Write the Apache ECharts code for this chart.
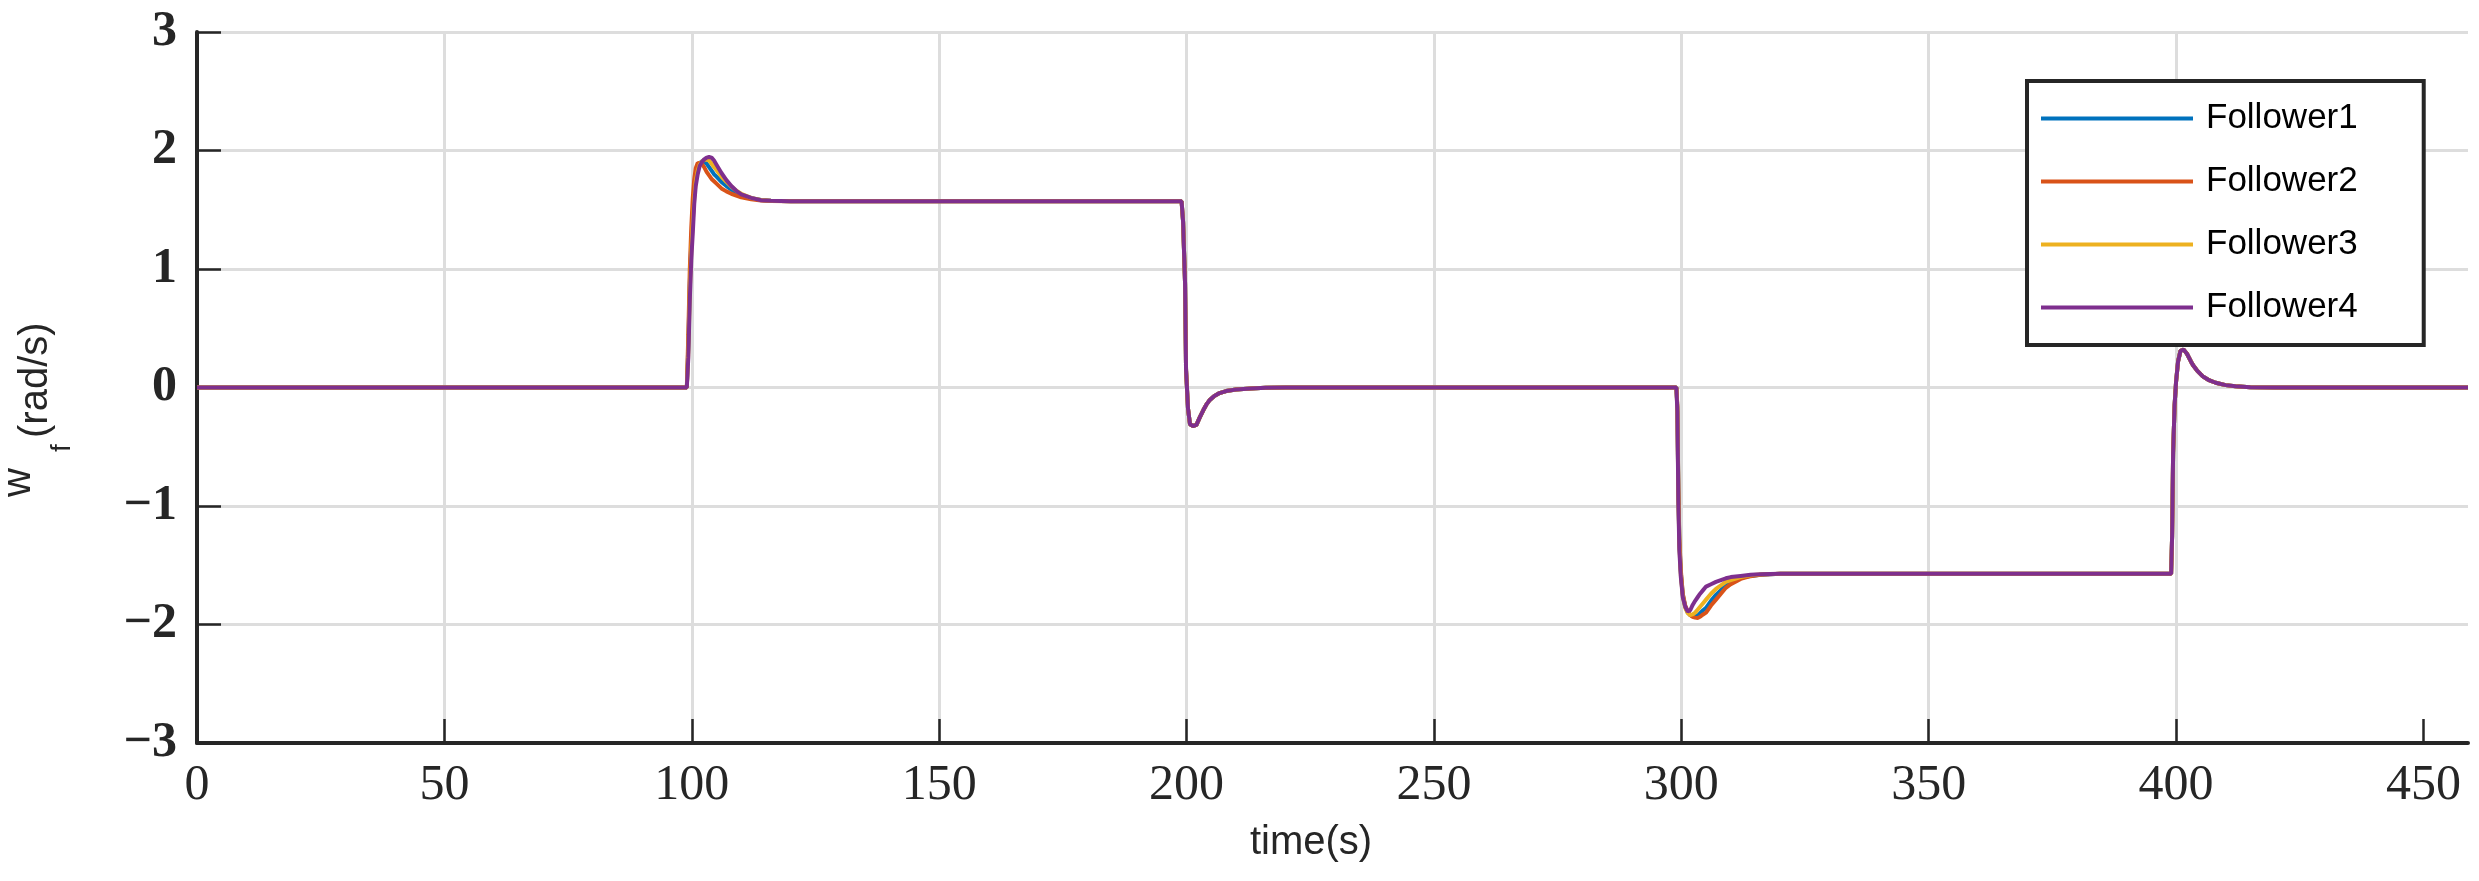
<!DOCTYPE html>
<html>
<head>
<meta charset="utf-8">
<script src="https://cdn.jsdelivr.net/npm/echarts@6/dist/echarts.min.js"></script>
<style>
html,body{margin:0;padding:0;background:#fff;}
#chart{width:2479px;height:881px;}
</style>
</head>
<body>
<div id="chart"></div>
<script>
// ---- data ----
const seriesNames = ['Follower1', 'Follower2', 'Follower3', 'Follower4'];
const xTicks = [0, 50, 100, 150, 200, 250, 300, 350, 400, 450];
const yTicks = [-3, -2, -1, 0, 1, 2, 3];

const tStart = [0];
const vStart = [0];

// step up at t = 100
const t100 = [99, 99.3, 99.6, 99.9, 100.2, 100.5, 100.8, 101.2, 101.6, 102, 102.5, 103, 103.5, 104, 104.5, 105, 106, 107, 108, 109, 110, 112, 114, 116, 120];
const f1_100 = [0, 0.35, 0.88, 1.22, 1.46, 1.65, 1.77, 1.85, 1.89, 1.91, 1.905, 1.89, 1.86, 1.83, 1.80, 1.78, 1.735, 1.70, 1.67, 1.645, 1.625, 1.598, 1.582, 1.575, 1.571];
const f2_100 = [0, 0.45, 1.00, 1.35, 1.60, 1.76, 1.85, 1.895, 1.90, 1.89, 1.86, 1.82, 1.79, 1.76, 1.74, 1.72, 1.68, 1.655, 1.635, 1.62, 1.605, 1.588, 1.578, 1.573, 1.571];
const f3_100 = [0, 0.30, 0.82, 1.16, 1.40, 1.60, 1.74, 1.83, 1.88, 1.905, 1.92, 1.925, 1.915, 1.89, 1.86, 1.835, 1.78, 1.735, 1.695, 1.66, 1.635, 1.60, 1.583, 1.576, 1.571];
const f4_100 = [0, 0.25, 0.74, 1.08, 1.30, 1.55, 1.70, 1.80, 1.87, 1.90, 1.925, 1.94, 1.945, 1.94, 1.915, 1.88, 1.81, 1.75, 1.70, 1.66, 1.63, 1.60, 1.58, 1.575, 1.571];

// step down at t = 200 (all followers overlap)
const t200 = [199, 199.3, 199.7, 199.9, 200.3, 200.7, 201.3, 202, 202.7, 203.4, 204, 204.7, 205.5, 206.5, 208, 210, 213, 216, 220];
const all_200 = [1.571, 1.40, 0.88, 0.15, -0.18, -0.31, -0.325, -0.315, -0.25, -0.19, -0.145, -0.105, -0.075, -0.05, -0.03, -0.017, -0.008, -0.003, 0];

// step down at t = 300
const t300 = [299, 299.2, 299.4, 299.6, 299.9, 300.3, 300.8, 301.3, 301.8, 302.3, 302.8, 303.3, 303.8, 304.4, 305, 306, 307, 308, 309, 310, 312, 314, 316, 320];
const f1_300 = [0, -0.17, -0.88, -1.30, -1.56, -1.75, -1.85, -1.90, -1.92, -1.93, -1.93, -1.925, -1.905, -1.88, -1.86, -1.80, -1.75, -1.71, -1.655, -1.635, -1.605, -1.59, -1.58, -1.572];
const f2_300 = [0, -0.15, -0.85, -1.27, -1.54, -1.74, -1.84, -1.89, -1.92, -1.935, -1.942, -1.945, -1.935, -1.915, -1.90, -1.84, -1.79, -1.74, -1.69, -1.66, -1.615, -1.592, -1.58, -1.572];
const f3_300 = [0, -0.18, -0.90, -1.33, -1.58, -1.76, -1.86, -1.905, -1.92, -1.915, -1.90, -1.875, -1.85, -1.82, -1.79, -1.74, -1.70, -1.67, -1.64, -1.625, -1.60, -1.585, -1.577, -1.571];
const f4_300 = [0, -0.20, -0.95, -1.37, -1.60, -1.77, -1.85, -1.89, -1.88, -1.835, -1.80, -1.77, -1.74, -1.71, -1.68, -1.66, -1.64, -1.625, -1.61, -1.60, -1.59, -1.58, -1.575, -1.571];

// step up at t = 400 (all followers overlap)
const t400 = [399, 399.2, 399.4, 399.7, 400, 400.4, 400.9, 401.5, 402.2, 403, 403.4, 404.3, 405.4, 406.5, 408, 410, 412, 415, 420];
const all_400 = [-1.571, -1.25, -0.55, -0.15, 0.05, 0.22, 0.31, 0.32, 0.285, 0.22, 0.19, 0.14, 0.094, 0.065, 0.04, 0.02, 0.01, 0.003, 0];

const tEnd = [459];
const vEnd = [0];

const colors = ['#0072BD', '#D95319', '#EDB120', '#7E2F8E'];

function zip(t, v) { return t.map((x, i) => [x, v[i]]); }
function build(a100, a300) {
  return [].concat(zip(tStart, vStart), zip(t100, a100), zip(t200, all_200),
                   zip(t300, a300), zip(t400, all_400), zip(tEnd, vEnd));
}
const seriesData = [build(f1_100, f1_300), build(f2_100, f2_300), build(f3_100, f3_300), build(f4_100, f4_300)];

const chart = echarts.init(document.getElementById('chart'), null, {renderer: 'canvas'});
const axisColor = '#262626';
const gridColor = '#dddddd';
const fmt = v => (v < 0 ? '\u2212' + Math.abs(v) : String(v));

const option = {
  animation: false,
  backgroundColor: '#ffffff',
  color: colors,
  grid: {left: 197, right: 11, top: 32, bottom: 138, containLabel: false},
  legend: {
    orient: 'vertical',
    left: 2027, top: 81,
    data: seriesNames,
    icon: 'rect',
    itemWidth: 152, itemHeight: 4,
    itemGap: 28,
    padding: [20, 66, 20, 14],
    borderColor: axisColor, borderWidth: 4,
    backgroundColor: '#ffffff',
    textStyle: {fontFamily: 'Liberation Sans', fontSize: 35, color: '#000000', padding: [0, 0, 0, 8]}
  },
  xAxis: {
    type: 'value', min: 0, max: 459, interval: 50,
    name: 'time(s)', nameLocation: 'middle', nameGap: 80,
    nameTextStyle: {fontFamily: 'Liberation Sans', fontSize: 40, color: '#262626', padding: [0, 43, 0, 0]},
    axisLine: {show: true, onZero: false, lineStyle: {color: axisColor, width: 4}},
    axisTick: {show: true, inside: true, length: 24, customValues: xTicks, lineStyle: {color: axisColor, width: 2.5}},
    axisLabel: {customValues: xTicks, margin: 18, fontFamily: 'Liberation Serif', fontSize: 50, color: '#262626', formatter: fmt},
    splitLine: {show: true, showMinLine: false, showMaxLine: false, lineStyle: {color: gridColor, width: 3}}
  },
  yAxis: {
    type: 'value', min: -3, max: 3, interval: 1,
    axisLine: {show: true, onZero: false, lineStyle: {color: axisColor, width: 4}},
    axisTick: {show: true, inside: true, length: 24, customValues: yTicks, lineStyle: {color: axisColor, width: 2.5}},
    axisLabel: {customValues: yTicks, margin: 20, fontFamily: 'Liberation Serif', fontWeight: 'bold', fontSize: 50, color: '#262626', formatter: fmt},
    splitLine: {show: true, showMinLine: false, lineStyle: {color: gridColor, width: 3}}
  },
  graphic: [
    {type: 'text', x: 19, y: 497, rotation: Math.PI / 2, silent: true,
     style: {text: 'w', fontFamily: 'Liberation Sans', fontSize: 40, fill: '#262626', align: 'left', verticalAlign: 'middle', textAlign: 'left', textVerticalAlign: 'middle'}},
    {type: 'text', x: 62, y: 452, rotation: Math.PI / 2, silent: true,
     style: {text: 'f', fontFamily: 'Liberation Sans', fontSize: 28, fill: '#262626', align: 'left', verticalAlign: 'middle', textAlign: 'left', textVerticalAlign: 'middle'}},
    {type: 'text', x: 36, y: 438, rotation: Math.PI / 2, silent: true,
     style: {text: '(rad/s)', fontFamily: 'Liberation Sans', fontSize: 40, fill: '#262626', align: 'left', verticalAlign: 'middle', textAlign: 'left', textVerticalAlign: 'middle'}}
  ],
  series: seriesNames.map((n, i) => ({
    name: n, type: 'line', data: seriesData[i], showSymbol: false, symbol: 'none',
    lineStyle: {width: 4, color: colors[i]}, itemStyle: {color: colors[i]}, z: 2 + i
  }))
};
chart.setOption(option);
</script>
</body>
</html>
